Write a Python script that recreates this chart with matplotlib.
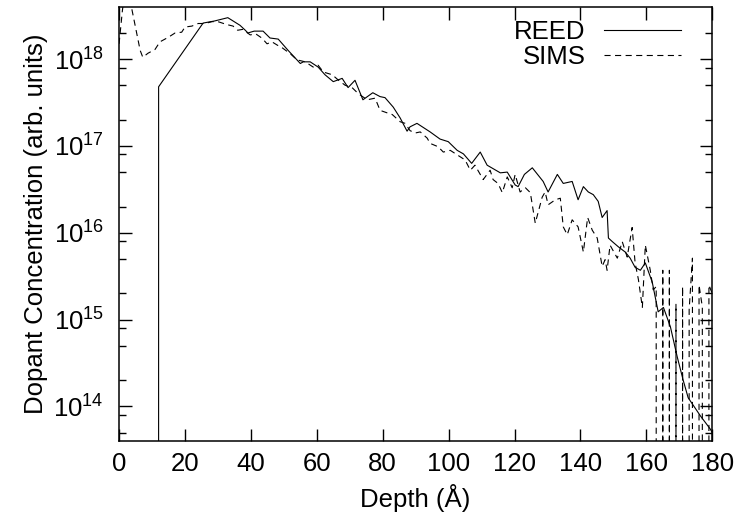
import matplotlib
matplotlib.use('Agg')
import matplotlib.pyplot as plt
from matplotlib.ticker import FixedLocator

# REED profile (depth in Angstrom, concentration in arb. units)
reed_depth = [11, 12, 25.5, 29, 33, 36.7, 38.3, 39.1, 41, 43.7, 45.8, 48.3, 51.3,
              55, 55.9, 58, 60.4, 62.5, 65, 67.7, 69.5, 71.6, 74, 77, 79.2, 80.7,
              83.2, 85.3, 87.4, 88.3, 90.4, 94.4, 97.4, 99.9, 102.6, 104.5, 107,
              109.6, 111.7, 115.7, 117.8, 120.2, 121.1, 123, 125.4, 128.7, 130.2,
              133, 134.8, 137.5, 139.3, 140.9, 142.4, 143.9, 145.4, 146.6, 148.1,
              148.5, 149.7, 151.5, 153.6, 155.1, 156.6, 158.2, 159.7, 161.8, 163.6,
              165.2, 167.3, 169.4, 171.2, 172.7, 176.4, 179.4, 180]
reed_conc = [0, 4.8e17, 2.6e18, 2.75e18, 3.0e18, 2.45e18, 2.15e18, 2.0e18, 2.1e18,
             2.1e18, 1.75e18, 1.7e18, 1.26e18, 8.9e17, 9.3e17, 9.3e17, 8.1e17,
             6.6e17, 5.5e17, 6.0e17, 4.7e17, 5.7e17, 3.4e17, 4.1e17, 3.7e17,
             3.6e17, 2.8e17, 2.1e17, 1.48e17, 1.66e17, 1.82e17, 1.45e17, 1.2e17,
             1.12e17, 8.9e16, 8.1e16, 6.3e16, 8.5e16, 6.0e16, 4.9e16, 5.0e16,
             3.55e16, 3.4e16, 4.7e16, 5.6e16, 3.9e16, 2.95e16, 4.7e16, 3.7e16,
             3.9e16, 2.4e16, 3.4e16, 2.95e16, 2.75e16, 2.3e16, 1.5e16, 1.8e16,
             8.7e15, 7.9e15, 6.9e15, 6.0e15, 5.1e15, 4.0e15, 3.7e15, 4.5e15,
             2.7e15, 1.23e15, 1.38e15, 8.3e14, 3.7e14, 2.0e14, 1.26e14, 7.8e13,
             5.5e13, 5.0e13]

# SIMS profile
sims_depth = [0, 1, 2, 3, 6.4, 7.2, 8.8, 10.9, 12.4, 14.9, 17, 19, 20, 22.1, 24,
              26.1, 28.2, 30, 32.7, 34.6, 36, 37.5, 39.8, 41.5, 43.4, 44.9, 46.4,
              48, 49.5, 52, 54, 56.5, 58.9, 60.4, 62, 64.7, 66.5, 68.6, 70.7, 72.6,
              75.3, 77.7, 79.2, 81.4, 82.9, 85.3, 86.8, 88.3, 89.9, 91.4, 93.5,
              94.4, 96.8, 98.4, 100.5, 102.6, 105, 106.6, 108, 110.5, 112.6, 113.5,
              115, 116.3, 117.8, 119.3, 120.2, 121.7, 123.3, 124.8, 126.3, 128.4,
              129.3, 130.2, 132.4, 133.9, 134.8, 136, 137.5, 139.3, 140.9, 142.2,
              143.6, 145.1, 146.6, 147.5, 148.1, 149, 151.2, 152.7, 154.2, 155.7,
              156.6, 157.6, 158.8, 159.7, 161.2, 162.1, 163, 164, 165, 166, 167,
              168, 169, 170, 171, 172, 173, 174, 175, 176, 177, 178, 179, 180]
sims_conc = [1.5e18, 3.6e18, 7e18, 5.5e18, 1.26e18, 1.05e18, 1.17e18, 1.29e18,
             1.58e18, 1.78e18, 2.0e18, 2.04e18, 2.34e18, 2.4e18, 2.57e18, 2.57e18,
             2.7e18, 2.7e18, 2.5e18, 2.4e18, 2.15e18, 2.2e18, 1.9e18, 1.95e18,
             1.74e18, 1.5e18, 1.58e18, 1.45e18, 1.35e18, 1.15e18, 9.8e17, 9.3e17,
             8.1e17, 8.5e17, 7.1e17, 6.6e17, 5.75e17, 5.0e17, 4.7e17, 4.0e17,
             3.4e17, 3.55e17, 2.57e17, 2.4e17, 2.3e17, 1.9e17, 1.82e17, 1.5e17,
             1.41e17, 1.45e17, 1.23e17, 1.07e17, 9.8e16, 8.5e16, 8.9e16, 7.9e16,
             6.9e16, 5.25e16, 6.0e16, 4.1e16, 5.25e16, 4.1e16, 3.7e16, 2.9e16,
             4.4e16, 3.3e16, 4.7e16, 2.95e16, 3.3e16, 2.9e16, 1.29e16, 2.57e16,
             2.95e16, 2.1e16, 2.4e16, 2.5e16, 1.17e16, 9.5e15, 1.41e16, 1.17e16,
             6.0e15, 1.5e16, 1.07e16, 8.7e15, 4.1e15, 4.9e15, 3.7e15, 7.2e15,
             5.1e15, 7.9e15, 5.25e15, 1.15e16, 4.5e15, 2.9e15, 1.38e15, 7.2e15,
             3.7e15, 2.2e15, 2.4e15, 0, 3.7e15, 0, 3.7e15, 0, 1.5e15, 0, 2.4e15,
             0, 1.3e15, 5.1e15, 0, 2.5e15, 1.4e15, 0, 2.5e15, 2.0e15]

x_ticks = [0, 20, 40, 60, 80, 100, 120, 140, 160, 180]
y_major = [1e14, 1e15, 1e16, 1e17, 1e18]

plt.rcParams['font.family'] = ['Liberation Sans', 'DejaVu Sans']
plt.rcParams['font.size'] = 18.5
plt.rcParams['axes.linewidth'] = 1.1

fig = plt.figure(figsize=(7.35, 5.25), dpi=100)
ax = fig.add_axes([0.162, 0.16, 0.807, 0.827])

ax.plot(reed_depth, reed_conc, color='black', lw=0.8, label='REED')
sims_line, = ax.plot(sims_depth, sims_conc, color='black', lw=0.8, label='SIMS')
sims_line.set_dashes((5.5, 4))

ax.set_yscale('log')
ax.set_xlim(0, 180)
ax.set_ylim(4e13, 4e18)
ax.set_xticks(x_ticks)
ax.yaxis.set_major_locator(FixedLocator(y_major))
minors = []
for e in range(13, 19):
    for m in (2, 5, 8):
        minors.append(m * 10.0 ** e)
ax.yaxis.set_minor_locator(FixedLocator(minors))
ax.xaxis.set_minor_locator(FixedLocator([]))

ax.tick_params(which='both', direction='in', top=True, right=True, width=1.0)
ax.tick_params(which='major', length=9)
ax.tick_params(which='minor', length=5)
ax.tick_params(axis='x', which='major', pad=8)
ax.tick_params(axis='y', which='major', pad=11)

ax.set_xlabel('Depth (Å)', labelpad=6)
ax.set_ylabel('Dopant Concentration (arb. units)', labelpad=4)

ax.legend(loc='upper right', frameon=False, markerfirst=False,
          handlelength=3.0, handletextpad=0.7, labelspacing=0.05,
          borderpad=0, borderaxespad=0, bbox_to_anchor=(0.947, 0.97))

fig.savefig('out.png', dpi=100)
